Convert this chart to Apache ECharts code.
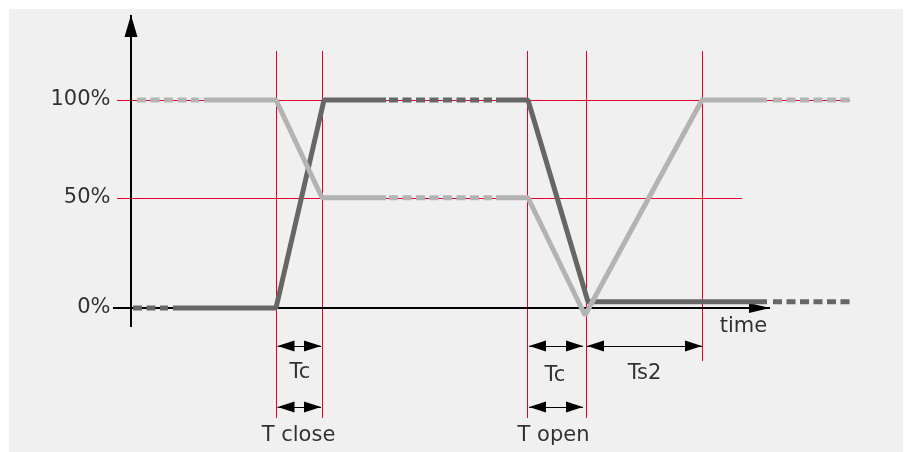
<!DOCTYPE html>
<html>
<head>
<meta charset="utf-8">
<script src="https://cdn.jsdelivr.net/npm/echarts@6/dist/echarts.min.js"></script>
<style>
  html, body { margin: 0; background: #fff; }
  #main { width: 911px; height: 452px; }
</style>
</head>
<body>
<div id="main"></div>
<script type="text/javascript">
// x: time (arbitrary units), y: level in %
var levels = [0, 53, 100];
var levelLabels = ['0%', '50%', '100%'];

// dark curve (closing contact), solid and dashed pieces
var darkSolid = [
  [[42, 0], [145, 0], [193, 100], [255, 100]],
  [[365, 100], [397, 100], [457, 3], [636, 3]]
];
var darkDashed = [
  [[2, 0], [37, 0]],
  [[258, 100], [361, 100]],
  [[642, 3], [719, 3]]
];

// light curve
var lightSolid = [
  [[73, 100], [145, 100], [191, 53], [255, 53]],
  [[365, 53], [397, 53], [454, -3.5], [571, 100], [636, 100]]
];
var lightDashed = [
  [[6, 100], [68, 100]],
  [[258, 53], [361, 53]],
  [[642, 100], [719, 100]]
];

// red guide lines
var eventTimes = [145, 191, 396, 455, 571];
var eventTop = [123.6, 123.6, 123.6, 123.6, 123.6];
var eventBottom = [-52.9, -52.9, -52.9, -52.9, -25.5];
var guideLevels = [53, 100];
var guideStart = [-14, -14];
var guideEnd = [611, 719];

// axes
var yAxisFrom = [0, -9.1], yAxisTo = [0, 140.9];
var xAxisFrom = [-18, 0], xAxisTo = [639, 0];

// double arrows: [from, to, level]
var spans = [
  [146.5, 190, -18.3],
  [398, 452, -18.3],
  [456, 571, -18.3],
  [146.5, 190, -47.6],
  [398, 452, -47.6]
];
var annoLabels = ['Tc', 'T close', 'Tc', 'Ts2', 'T open', 'time'];
var annoAt = [[169, -30.8], [167.5, -61.5], [424, -32.3], [513.5, -31.3], [422.5, -61.5], [612.5, -8.8]];

var DARK = '#666666', LIGHT = '#b3b3b3', RED = '#e4002b', INK = '#000000';
var FONT = 'DejaVu Sans';

var chart = echarts.init(document.getElementById('main'));

function piece(pts, color, dashed, z) {
  return {
    type: 'line',
    data: pts,
    symbol: 'none',
    silent: true,
    z: z,
    lineStyle: { color: color, width: 5, type: dashed ? [9, 4.5] : 'solid', cap: 'butt', join: 'bevel' }
  };
}

var series = [];

// red guides
var guides = [];
for (var i = 0; i < eventTimes.length; i++) {
  guides.push({ coords: [[eventTimes[i], eventTop[i]], [eventTimes[i], eventBottom[i]]] });
}
for (var j = 0; j < guideLevels.length; j++) {
  guides.push({ coords: [[guideStart[j], guideLevels[j]], [guideEnd[j], guideLevels[j]]] });
}
series.push({
  type: 'lines',
  coordinateSystem: 'cartesian2d',
  data: guides,
  z: 1,
  silent: true,
  symbol: 'none',
  lineStyle: { color: RED, width: 1, opacity: 1, curveness: 0 }
});

// axes + dimension arrows
var marks = [
  [{ coord: yAxisFrom, symbol: 'none', lineStyle: { width: 2 } },
   { coord: yAxisTo, symbolSize: [13, 22], symbolOffset: [0, 11] }],
  [{ coord: xAxisFrom, symbol: 'none', lineStyle: { width: 2 } },
   { coord: xAxisTo, symbolSize: [10, 21], symbolOffset: [0, 10.5] }]
];
spans.forEach(function (s) {
  marks.push([{ coord: [s[0], s[2]] }, { coord: [s[1], s[2]] }]);
});
series.push({
  type: 'line',
  data: [],
  silent: true,
  markLine: {
    z: 2,
    silent: true,
    animation: false,
    symbol: ['triangle', 'triangle'],
    symbolSize: [11, 17],
    symbolOffset: [[0, 8.5], [0, 8.5]],
    label: { show: false },
    emphasis: { disabled: true },
    itemStyle: { color: '#000' },
    lineStyle: { color: '#000', width: 1, type: 'solid' },
    data: marks
  }
});

darkSolid.forEach(function (p) { series.push(piece(p, DARK, false, 5)); });
darkDashed.forEach(function (p) { series.push(piece(p, DARK, true, 5)); });
lightSolid.forEach(function (p) { series.push(piece(p, LIGHT, false, 6)); });
lightDashed.forEach(function (p) { series.push(piece(p, LIGHT, true, 6)); });

// level labels
series.push({
  type: 'scatter',
  symbolSize: 1,
  silent: true,
  itemStyle: { color: 'transparent' },
  data: levels.map(function (v, k) { return { name: levelLabels[k], value: [-20, v] }; }),
  label: { show: true, position: 'left', distance: 0, formatter: '{b}', color: INK, fontFamily: FONT, fontSize: 21 },
  z: 8
});
// annotation labels
series.push({
  type: 'scatter',
  symbolSize: 1,
  silent: true,
  itemStyle: { color: 'transparent' },
  data: annoLabels.map(function (t, k) { return { name: t, value: annoAt[k] }; }),
  label: { show: true, position: 'inside', formatter: '{b}', color: INK, fontFamily: FONT, fontSize: 21 },
  z: 8
});

chart.setOption({
  animation: false,
  backgroundColor: '#ffffff',
  grid: { left: 9, right: 8, top: 9, bottom: 0, show: true, backgroundColor: '#f0f0f0', borderWidth: 0 },
  xAxis: { type: 'value', min: -122, max: 772, show: false },
  yAxis: { type: 'value', min: -69.23, max: 143.75, show: false },
  series: series
});
</script>
</body>
</html>
